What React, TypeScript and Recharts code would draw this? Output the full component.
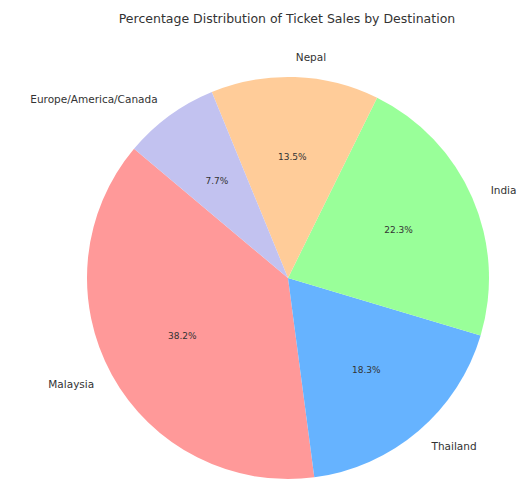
import { PieChart, Pie, Cell } from 'recharts';

const destinations = ['Malaysia', 'Thailand', 'India', 'Nepal', 'Europe/America/Canada'];
const shares = [38.2, 18.3, 22.3, 13.5, 7.7];
const COLORS = ['#ff9999', '#66b3ff', '#99ff99', '#ffcc99', '#c2c2f0'];

const data = destinations.map((name, i) => ({ name, value: shares[i] }));

const RADIAN = Math.PI / 180;

const renderLabel = (props: any) => {
  const { cx, cy, midAngle, outerRadius, percent, name } = props;
  const cos = Math.cos(-midAngle * RADIAN);
  const sin = Math.sin(-midAngle * RADIAN);
  const ox = cx + outerRadius * 1.1 * cos;
  const oy = cy + outerRadius * 1.1 * sin;
  const ix = cx + outerRadius * 0.6 * cos;
  const iy = cy + outerRadius * 0.6 * sin;
  return (
    <g>
      <text
        x={ox}
        y={oy}
        fill="#333"
        fontSize={10.5}
        textAnchor={ox >= cx ? 'start' : 'end'}
        dominantBaseline="central"
      >
        {name}
      </text>
      <text x={ix} y={iy} fill="#333" fontSize={9} textAnchor="middle" dominantBaseline="central">
        {(percent * 100).toFixed(1)}%
      </text>
    </g>
  );
};

const App = () => {
  return (
    <div style={{ position: 'absolute', left: 0, top: 0, fontFamily: '"DejaVu Sans", sans-serif' }}>
      <PieChart width={518} height={480} margin={{ top: 0, right: 0, bottom: 0, left: 0 }}>
        <text x={287} y={18} textAnchor="middle" dominantBaseline="central" fontSize={12.5} fill="#333">
          Percentage Distribution of Ticket Sales by Destination
        </text>
        <Pie
          data={data}
          dataKey="value"
          nameKey="name"
          cx={288}
          cy={278}
          outerRadius={201}
          startAngle={140}
          endAngle={500}
          label={renderLabel}
          labelLine={false}
          isAnimationActive={false}
          stroke="none"
        >
          {data.map((_, index) => (
            <Cell key={`cell-${index}`} fill={COLORS[index % COLORS.length]} />
          ))}
        </Pie>
      </PieChart>
    </div>
  );
};

export default App;
